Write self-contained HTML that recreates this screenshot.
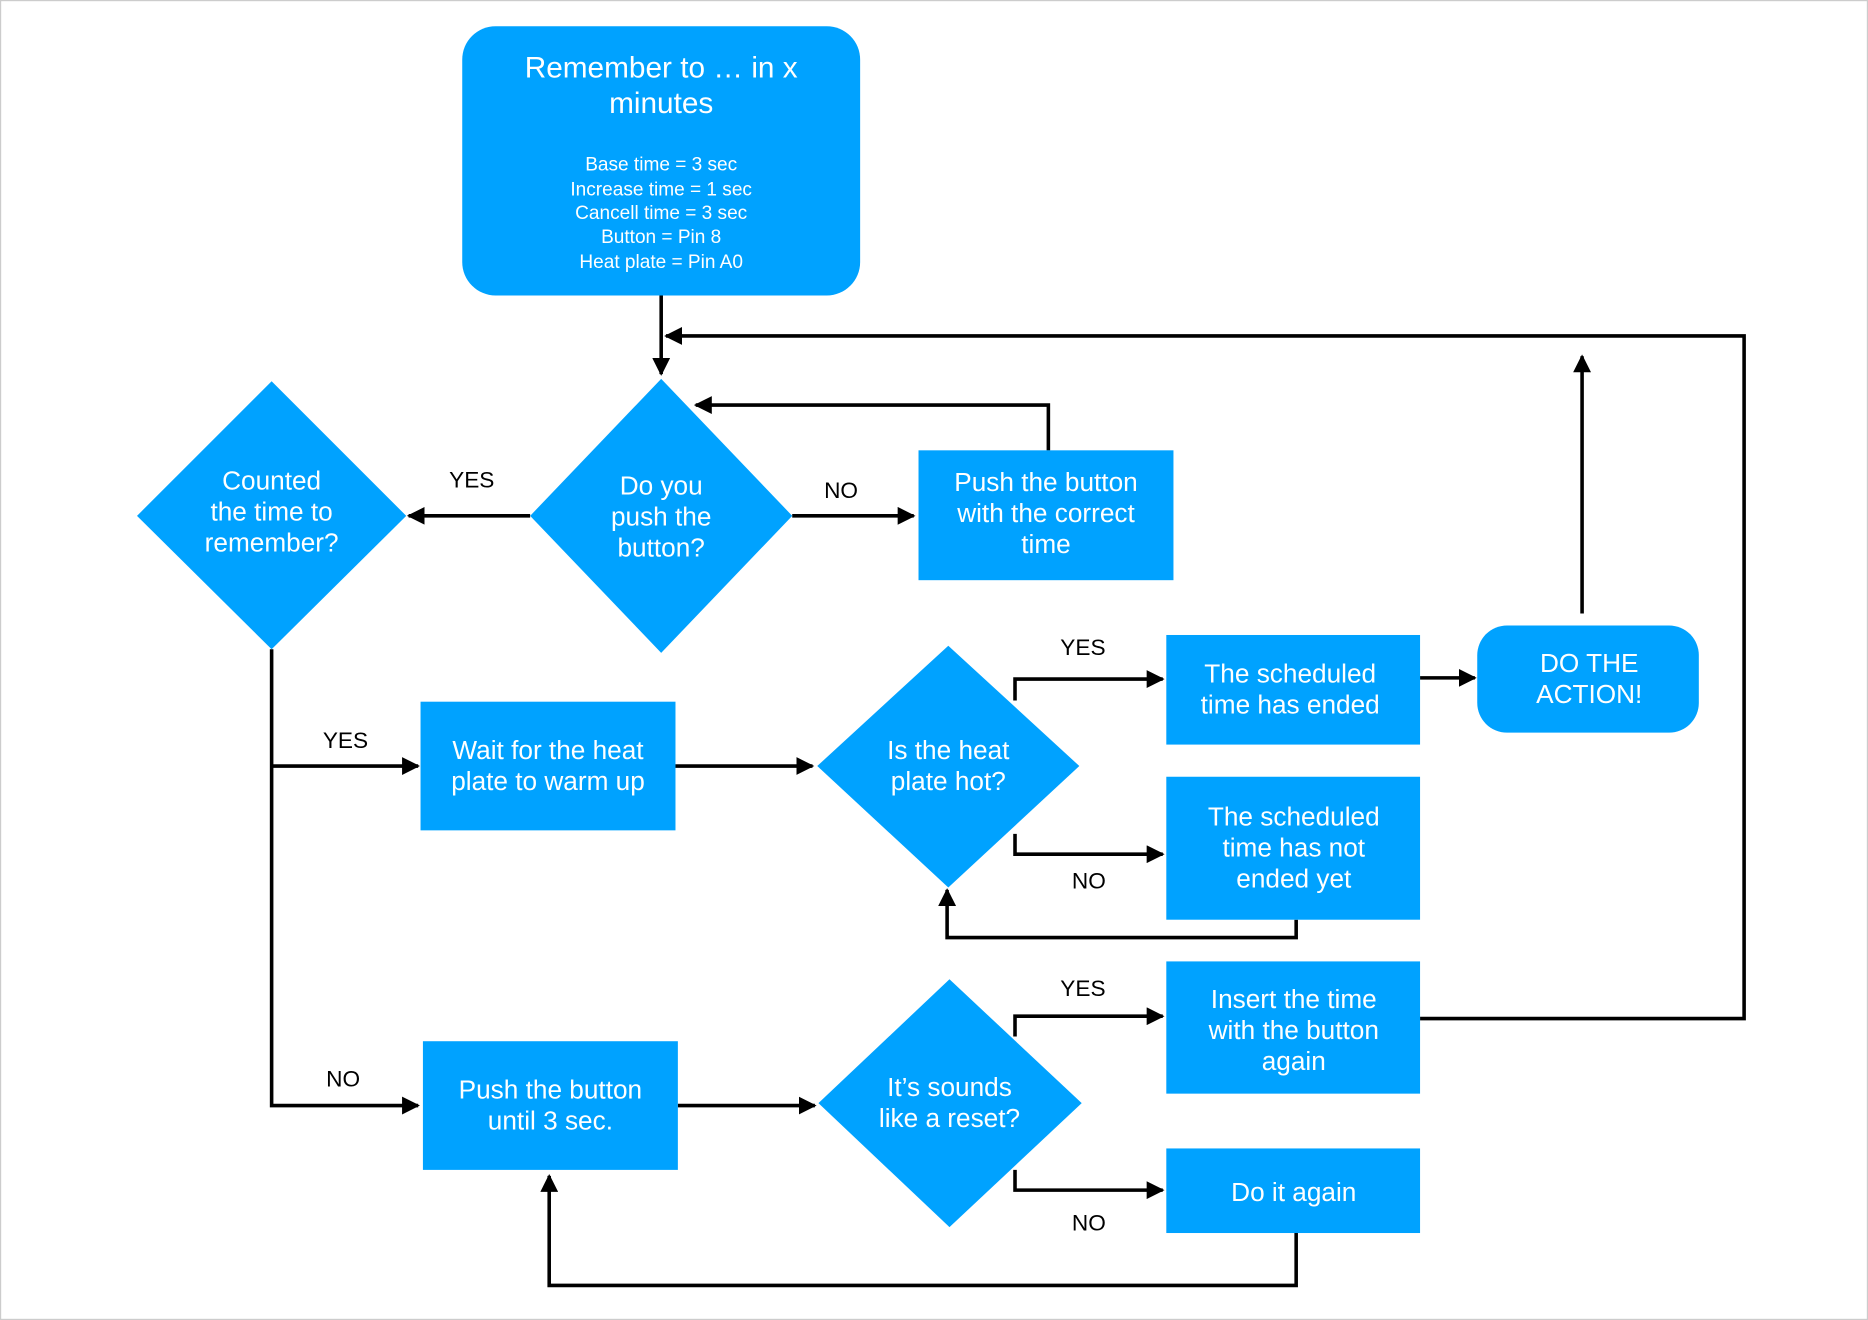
<!DOCTYPE html>
<html><head><meta charset="utf-8"><style>
html,body{margin:0;padding:0;background:#fff;}
svg{display:block;}
text{font-family:"Liberation Sans",sans-serif;}
.w{fill:#fff;font-size:22px;text-anchor:middle;}
.s{fill:#fff;font-size:16px;text-anchor:middle;}
.l{fill:#000;font-size:19px;text-anchor:middle;}
.ln{stroke:#000;stroke-width:3;fill:none;}
.b{fill:#00A2FF;}
</style></head><body>
<svg width="1868" height="1320" viewBox="0 0 1568 1108" xmlns="http://www.w3.org/2000/svg">
<defs><marker id="a" viewBox="0 0 10 10" refX="9" refY="5" markerWidth="5" markerHeight="5" orient="auto-start-reverse" markerUnits="strokeWidth"><path d="M0,0 L10,5 L0,10 z" fill="#000"/></marker></defs>
<rect x="0.5" y="0.5" width="1567" height="1107" fill="#fff" stroke="#ccc"/>
<!-- top -->
<rect class="b" x="388" y="22" width="334" height="226" rx="28"/>
<text class="w" x="555" y="65" style="font-size:25px">Remember to … in x</text>
<text class="w" x="555" y="95" style="font-size:25px">minutes</text>
<text class="s" x="555" y="143">Base time = 3 sec</text>
<text class="s" x="555" y="164">Increase time = 1 sec</text>
<text class="s" x="555" y="184">Cancell time = 3 sec</text>
<text class="s" x="555" y="204">Button = Pin 8</text>
<text class="s" x="555" y="225">Heat plate = Pin A0</text>
<!-- lines -->
<path class="ln" d="M555,248 V314" marker-end="url(#a)"/>
<path class="ln" d="M445,433 H343" marker-end="url(#a)"/>
<path class="ln" d="M665,433 H767" marker-end="url(#a)"/>
<path class="ln" d="M880,378 V340 H584" marker-end="url(#a)"/>
<path class="ln" d="M1192,855 H1464 V282 H559" marker-end="url(#a)"/>
<path class="ln" d="M228,545 V928 H351" marker-end="url(#a)"/>
<path class="ln" d="M228,643 H351" marker-end="url(#a)"/>
<path class="ln" d="M567,643 H682" marker-end="url(#a)"/>
<path class="ln" d="M852,588 V570 H976" marker-end="url(#a)"/>
<path class="ln" d="M852,700 V717 H976" marker-end="url(#a)"/>
<path class="ln" d="M1088,772 V787 H795 V747" marker-end="url(#a)"/>
<path class="ln" d="M1192,569 H1238" marker-end="url(#a)"/>
<path class="ln" d="M1328,515 V299" marker-end="url(#a)"/>
<path class="ln" d="M569,928 H684" marker-end="url(#a)"/>
<path class="ln" d="M852,870 V853 H976" marker-end="url(#a)"/>
<path class="ln" d="M852,982 V999 H976" marker-end="url(#a)"/>
<path class="ln" d="M1088,1035 V1079 H461 V987" marker-end="url(#a)"/>
<!-- shapes -->
<polygon class="b" points="555,318 665,433 555,548 445,433"/>
<text class="w" x="555" y="415">Do you</text><text class="w" x="555" y="441">push the</text><text class="w" x="555" y="467">button?</text>
<polygon class="b" points="228,320 341,433 228,545 115,433"/>
<text class="w" x="228" y="411">Counted</text><text class="w" x="228" y="437">the time to</text><text class="w" x="228" y="463">remember?</text>
<rect class="b" x="771" y="378" width="214" height="109"/>
<text class="w" x="878" y="412">Push the button</text><text class="w" x="878" y="438">with the correct</text><text class="w" x="878" y="464">time</text>
<rect class="b" x="353" y="589" width="214" height="108"/>
<text class="w" x="460" y="637">Wait for the heat</text><text class="w" x="460" y="663">plate to warm up</text>
<polygon class="b" points="796,542 906,643 796,745 686,643"/>
<text class="w" x="796" y="637">Is the heat</text><text class="w" x="796" y="663">plate hot?</text>
<rect class="b" x="979" y="533" width="213" height="92"/>
<text class="w" x="1083" y="573">The scheduled</text><text class="w" x="1083" y="599">time has ended</text>
<rect class="b" x="979" y="652" width="213" height="120"/>
<text class="w" x="1086" y="693">The scheduled</text><text class="w" x="1086" y="719">time has not</text><text class="w" x="1086" y="745">ended yet</text>
<rect class="b" x="1240" y="525" width="186" height="90" rx="25"/>
<text class="w" x="1334" y="564">DO THE</text><text class="w" x="1334" y="590">ACTION!</text>
<rect class="b" x="355" y="874" width="214" height="108"/>
<text class="w" x="462" y="922">Push the button</text><text class="w" x="462" y="948">until 3 sec.</text>
<polygon class="b" points="797,822 908,926 797,1030 687,926"/>
<text class="w" x="797" y="920">It’s sounds</text><text class="w" x="797" y="946">like a reset?</text>
<rect class="b" x="979" y="807" width="213" height="111"/>
<text class="w" x="1086" y="846">Insert the time</text><text class="w" x="1086" y="872">with the button</text><text class="w" x="1086" y="898">again</text>
<rect class="b" x="979" y="964" width="213" height="71"/>
<text class="w" x="1086" y="1008">Do it again</text>
<!-- labels -->
<text class="l" x="396" y="409">YES</text>
<text class="l" x="706" y="418">NO</text>
<text class="l" x="290" y="628">YES</text>
<text class="l" x="288" y="912">NO</text>
<text class="l" x="909" y="550">YES</text>
<text class="l" x="914" y="746">NO</text>
<text class="l" x="909" y="836">YES</text>
<text class="l" x="914" y="1033">NO</text>
</svg>
</body></html>
